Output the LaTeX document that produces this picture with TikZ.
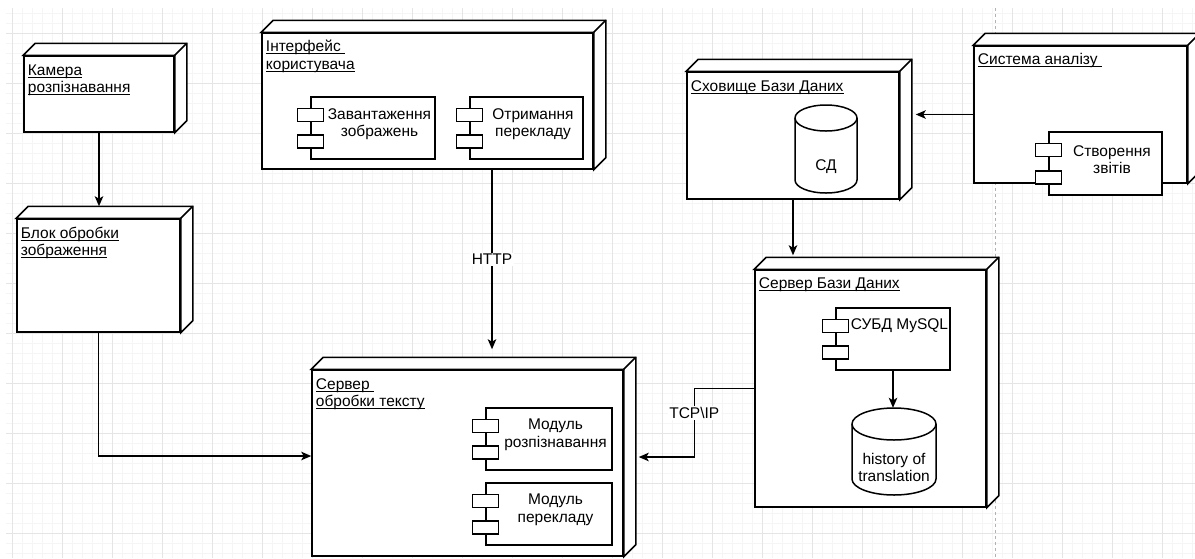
\documentclass[tikz,border=0pt]{standalone}
\usepackage{fontspec}
\setmainfont{Liberation Sans}
\usetikzlibrary{arrows.meta,fit}

% underlined text with a fixed rule below the baseline
\newcommand\ulbox[1]{\setbox0=\hbox{#1}\rlap{\rule[-2.4pt]{\wd0}{1.1pt}}\box0}
% two stacked underlined lines, baseline on the first one
\newcommand\ultwo[2]{\vtop{\hbox{\ulbox{#1}}\hbox{\ulbox{#2}}}}

% 3D device box: front face from (x1,y1) to (x2,y2), depth 12
\newcommand\devbox[5]{%
  \node[dev, fit={(#2,#3) (#4,#5)}] (#1) {};
  \filldraw[face] (#1.north west) -- ++(12,-12) -- ([shift={(12pt,12pt)}]#1.north east)
    -- ([shift={(12pt,12pt)}]#1.south east) -- (#1.south east) -- (#1.north east) -- cycle;
  \draw[face] (#1.north east) -- ++(12,-12);
}
% UML component: body plus two tabs on the left edge
\newcommand\compbox[5]{%
  \node[comp, fit={(#2,#3) (#4,#5)}] (#1) {};
  \filldraw[tab] ([shift={(-13pt,-12pt)}]#1.north west) rectangle ++(26,13);
  \filldraw[tab] ([shift={(-13pt,25pt)}]#1.south west) rectangle ++(26,13);
}
% database cylinder
\newcommand\cylbox[6]{%
  \node[inner sep=0pt, fit={(#2,#3) (#4,#5)}] (#1) {};
  \filldraw[tab] (#2,{#3+#6}) -- (#2,{#5-#6})
    arc[start angle=180, end angle=0, x radius={(#4-#2)/2}, y radius=#6]
    -- (#4,{#3+#6})
    arc[start angle=0, end angle=-180, x radius={(#4-#2)/2}, y radius=#6] -- cycle;
  \draw[tab] (#2,{#3+#6}) arc[start angle=180, end angle=0, x radius={(#4-#2)/2}, y radius=#6];
}

\begin{document}
\begin{tikzpicture}[x=1pt, y=-1pt,
  dev/.style={draw, fill=white, line width=1.5pt, inner sep=0pt},
  face/.style={draw, fill=white, line width=1.5pt, line join=miter},
  comp/.style={draw, fill=white, line width=1.5pt, inner sep=0pt},
  tab/.style={draw, fill=white, line width=1.5pt},
  txt/.style={font=\fontsize{15.5}{17.5}\selectfont, inner sep=0pt, align=center},
  dtxt/.style={font=\fontsize{15.5}{17.5}\selectfont, inner sep=0pt, anchor=base west},
  conn/.style={line width=1.5pt, -{Stealth[length=10pt, width=8.5pt, inset=2.5pt]}},
  lbl/.style={fill=white, inner sep=1.5pt, font=\fontsize{15.5}{17.5}\selectfont},
  gridminor/.style={draw=black!4, line width=1pt},
  gridmajor/.style={draw=black!10, line width=1pt}]

\useasboundingbox (0,0) rectangle (1195,558);
\fill[white] (0,0) rectangle (1195,558);

% background grid
\begin{scope}
  \clip (6,8) rectangle (1195,558);
  \foreach \gx in {12,22,...,1192} \draw[gridminor] (\gx,8) -- (\gx,558);
  \foreach \gy in {13,23,...,553} \draw[gridminor] (6,\gy) -- (1195,\gy);
  \foreach \gx in {12,62,...,1162} \draw[gridmajor] (\gx,8) -- (\gx,558);
  \foreach \gy in {33,83,...,533} \draw[gridmajor] (6,\gy) -- (1195,\gy);
\end{scope}
% page boundary
\draw[black!30, line width=0.8pt, dash pattern=on 3pt off 3pt] (995,8) -- (995,558);

% devices
\devbox{cam}{24}{56}{174}{132}
\node[dtxt] (cam-t) at ([shift={(4.5pt,-20pt)}]cam.north west) {\ultwo{Камера}{розпізнавання}};

\devbox{blk}{17}{219}{180}{332}
\node[dtxt] (blk-t) at ([shift={(4.5pt,-20pt)}]blk.north west) {\ultwo{Блок обробки}{зображення}};

\devbox{ui}{262}{33}{593}{169}
\node[dtxt] (ui-t) at ([shift={(4.5pt,-19.5pt)}]ui.north west) {\ultwo{Інтерфейс\ }{користувача}};

\devbox{srv}{312}{370}{623}{556}
\node[dtxt] (srv-t) at ([shift={(4.5pt,-20pt)}]srv.north west) {\ultwo{Сервер\ }{обробки тексту}};

\devbox{store}{687}{72}{899}{199}
\node[dtxt] (store-t) at ([shift={(4.5pt,-20pt)}]store.north west) {\ulbox{Сховище Бази Даних}};

\devbox{anl}{974}{46}{1187}{183}
\node[dtxt] (anl-t) at ([shift={(4.5pt,-19pt)}]anl.north west) {\ulbox{Система аналізу\ }};

\devbox{dbs}{755}{270}{986}{507}
\node[dtxt] (dbs-t) at ([shift={(4.5pt,-19pt)}]dbs.north west) {\ulbox{Сервер Бази Даних}};

% components
\compbox{ui1}{311}{97}{435}{159}
\node[txt] (ui1-t) at ([shift={(6.5pt,4pt)}]ui1.center) {Завантаження\\зображень};
\compbox{ui2}{470}{97}{583}{159}
\node[txt] (ui2-t) at ([shift={(6.5pt,4pt)}]ui2.center) {Отримання\\перекладу};
\compbox{m1}{486}{408}{612}{470}
\node[txt] (m1-t) at ([shift={(6.5pt,4pt)}]m1.center) {Модуль\\розпізнавання};
\compbox{m2}{486}{483}{612}{545}
\node[txt] (m2-t) at ([shift={(6.5pt,4pt)}]m2.center) {Модуль\\перекладу};
\compbox{rep}{1049}{132}{1162}{195}
\node[txt] (rep-t) at ([shift={(6.5pt,4pt)}]rep.center) {Створення\\звітів};
\compbox{dbms}{836}{308}{950}{370}
\node[txt, anchor=north] (dbms-t) at ([shift={(6.5pt,-11.5pt)}]dbms.north) {СУБД MySQL};

% databases
\cylbox{sd}{795}{105}{857}{193}{13}
\node[txt] (sd-t) at ([yshift=-18pt]sd.center) {СД};
\cylbox{hist}{852}{408}{936}{495}{16}
\node[txt] (hist-t) at ([yshift=-16pt]hist.center) {history of\\translation};

% connectors
\coordinate (blk-top) at ([yshift=12pt]blk.north);
\draw[conn] (cam.south) -- (cam.south |- blk-top);

\coordinate (srv-in) at ([yshift=7pt]srv.west);
\draw[conn] (blk.south) |- (srv-in);

\coordinate (ui-out) at ([xshift=64.5pt]ui.south);
\coordinate (srv-top) at ([yshift=20pt]srv.north);
\draw[conn] (ui-out) -- (ui-out |- srv-top) node[lbl, midway] (http) {HTTP};

\coordinate (tcp-bend) at ([xshift=-60pt]dbs.west);
\coordinate (srv-r) at ([shift={(15pt,6pt)}]srv.east);
\draw[conn] (dbs.west) -- (tcp-bend) |- node[lbl, pos=0.18] (tcp) {TCP\textbackslash IP} (srv-r);

\coordinate (store-r) at ([xshift=16pt]store.east);
\draw[conn] (anl.west) -- (anl.west -| store-r);

\coordinate (dbs-top) at ([yshift=14pt]dbs.north);
\draw[conn] (store.south) -- (store.south |- dbs-top);

\draw[conn] (dbms.south) -- (dbms.south |- hist.north);
\end{tikzpicture}
\end{document}
